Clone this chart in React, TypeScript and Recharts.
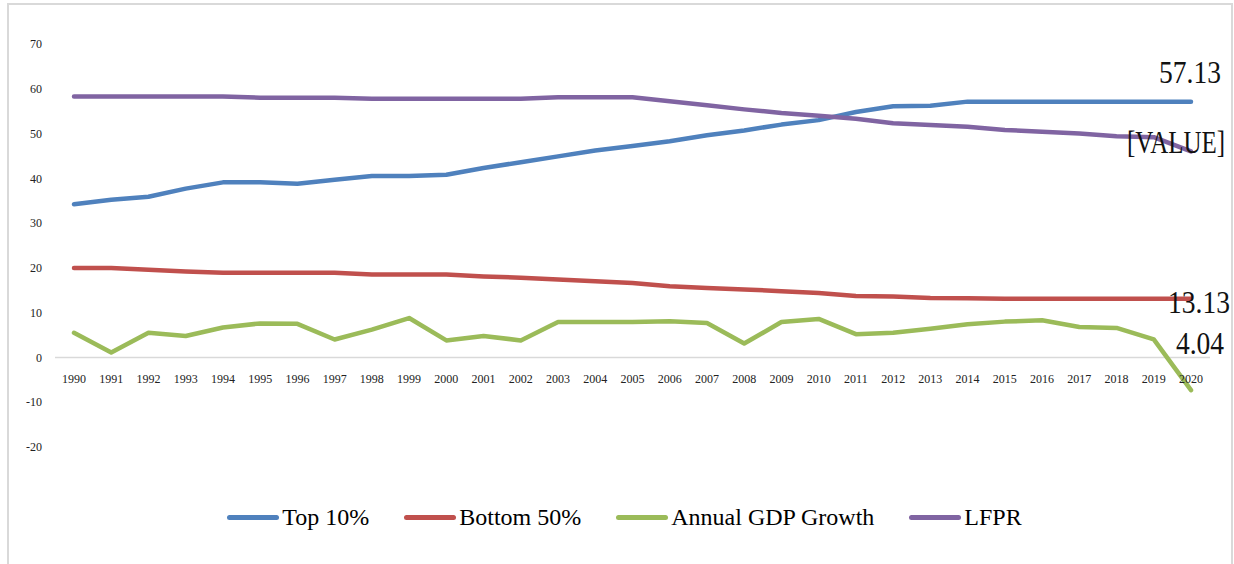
import React from 'react';
import { LineChart, Line, XAxis, YAxis, ReferenceLine, Legend, LabelList } from 'recharts';

const YEARS = [
  1990, 1991, 1992, 1993, 1994, 1995, 1996, 1997, 1998, 1999, 2000,
  2001, 2002, 2003, 2004, 2005, 2006, 2007, 2008, 2009, 2010,
  2011, 2012, 2013, 2014, 2015, 2016, 2017, 2018, 2019, 2020,
];

const TOP_10 = [
  34.2, 35.2, 35.9, 37.7, 39.1, 39.1, 38.8, 39.7, 40.5, 40.5, 40.8,
  42.3, 43.6, 44.9, 46.2, 47.2, 48.3, 49.6, 50.7, 52.0, 53.0,
  54.8, 56.1, 56.2, 57.13, 57.13, 57.13, 57.13, 57.13, 57.13, 57.13,
];

const BOTTOM_50 = [
  20.0, 20.0, 19.6, 19.2, 18.9, 18.9, 18.9, 18.9, 18.5, 18.5, 18.5,
  18.1, 17.8, 17.4, 17.0, 16.6, 15.9, 15.5, 15.2, 14.8, 14.4,
  13.7, 13.6, 13.3, 13.2, 13.13, 13.13, 13.13, 13.13, 13.13, 13.13,
];

const GDP_GROWTH = [
  5.5, 1.1, 5.5, 4.8, 6.7, 7.6, 7.5, 4.0, 6.2, 8.8, 3.8,
  4.8, 3.8, 7.9, 7.9, 7.9, 8.1, 7.7, 3.1, 7.9, 8.6,
  5.2, 5.5, 6.4, 7.4, 8.0, 8.3, 6.8, 6.6, 4.04, -7.3,
];

const LFPR = [
  58.3, 58.3, 58.3, 58.3, 58.3, 58.0, 58.0, 58.0, 57.8, 57.8, 57.8,
  57.8, 57.8, 58.1, 58.1, 58.1, 57.2, 56.3, 55.4, 54.6, 54.0,
  53.3, 52.3, 51.9, 51.5, 50.8, 50.4, 50.0, 49.4, 49.2, 46.0,
];

const Y_TICKS = [-20, -10, 0, 10, 20, 30, 40, 50, 60, 70];

const SERIES = [
  { key: 'top10', name: 'Top 10%', color: '#4f81bd', end: '57.13', dx: -1, dy: -19, sx: 0.86 },
  { key: 'bottom50', name: 'Bottom 50%', color: '#c0504d', end: '13.13', dx: 8, dy: 14, sx: 0.86 },
  { key: 'gdp', name: 'Annual GDP Growth', color: '#9bbb59', end: '4.04', dx: 9, dy: -36, sx: 0.86 },
  { key: 'lfpr', name: 'LFPR', color: '#8064a2', end: '[VALUE]', dx: -15, dy: 2, sx: 0.78 },
];

const data = YEARS.map((year, i) => ({
  year,
  top10: TOP_10[i],
  bottom50: BOTTOM_50[i],
  gdp: GDP_GROWTH[i],
  lfpr: LFPR[i],
}));

const W = 1221;
const H = 555;
const MARGIN = { top: 39, right: 20, bottom: 28, left: 0 };
const X_AXIS_H = 55;
const LEGEND_H = 30;
const PLOT_H = H - MARGIN.top - MARGIN.bottom - X_AXIS_H - LEGEND_H;
// distance from plot bottom (-20) up to the zero line
const ZERO_SHIFT = (PLOT_H * 20) / 90;

const serif = '"Liberation Serif", "Times New Roman", serif';

const YearTick = (props: any) => {
  const { x, y, payload } = props;
  return (
    <text x={x} y={y - ZERO_SHIFT + 26} textAnchor="middle" fontFamily={serif} fontSize={12} fill="#222">
      {payload.value}
    </text>
  );
};

const endLabel = (text: string, dx: number, dy: number, sx: number) => (props: any) => {
  if (props.index !== YEARS.length - 1) return null;
  return (
    <text
      transform={`translate(${props.x + dx} ${props.y + dy}) scale(${sx} 1)`}
      textAnchor="middle"
      fontFamily={serif}
      fontSize={32}
      fill="#111"
    >
      {text}
    </text>
  );
};

const LegendContent = () => (
  <div style={{ display: 'flex', justifyContent: 'center', alignItems: 'center', height: LEGEND_H, paddingLeft: 30, gap: 35 }}>
    {SERIES.map(s => (
      <div key={s.key} style={{ display: 'flex', alignItems: 'center' }}>
        <span style={{ width: 52, height: 5, borderRadius: 3, background: s.color, marginRight: 3 }} />
        <span style={{ fontFamily: serif, fontSize: 24, color: '#000', lineHeight: '30px' }}>{s.name}</span>
      </div>
    ))}
  </div>
);

export default function App() {
  return (
    <div
      style={{
        position: 'absolute',
        left: 7,
        top: 3,
        width: 1226,
        height: 561,
        boxSizing: 'border-box',
        border: '2px solid #d9d9d9',
        borderBottom: 'none',
        background: '#fff',
      }}
    >
      <LineChart width={W} height={H} data={data} margin={MARGIN} style={{ overflow: 'visible' }}>
        <XAxis
          dataKey="year"
          axisLine={false}
          tickLine={false}
          tickSize={0}
          tickMargin={0}
          interval={0}
          height={X_AXIS_H}
          padding={{ left: 19, right: 19 }}
          tick={<YearTick />}
        />
        <YAxis
          width={46}
          domain={[-20, 70]}
          ticks={Y_TICKS}
          axisLine={false}
          tickLine={false}
          tickSize={0}
          tickMargin={13}
          tick={{ fontFamily: serif, fontSize: 12, fill: '#222' }}
        />
        <ReferenceLine y={0} stroke="#d9d9d9" strokeWidth={1.5} />
        <Legend verticalAlign="bottom" align="center" content={<LegendContent />} />
        {SERIES.map(s => (
          <Line
            key={s.key}
            type="linear"
            dataKey={s.key}
            name={s.name}
            stroke={s.color}
            strokeWidth={4.5}
            strokeLinecap="round"
            strokeLinejoin="round"
            dot={false}
            activeDot={false}
            isAnimationActive={false}
          >
            <LabelList dataKey={s.key} content={endLabel(s.end, s.dx, s.dy, s.sx)} />
          </Line>
        ))}
      </LineChart>
    </div>
  );
}
